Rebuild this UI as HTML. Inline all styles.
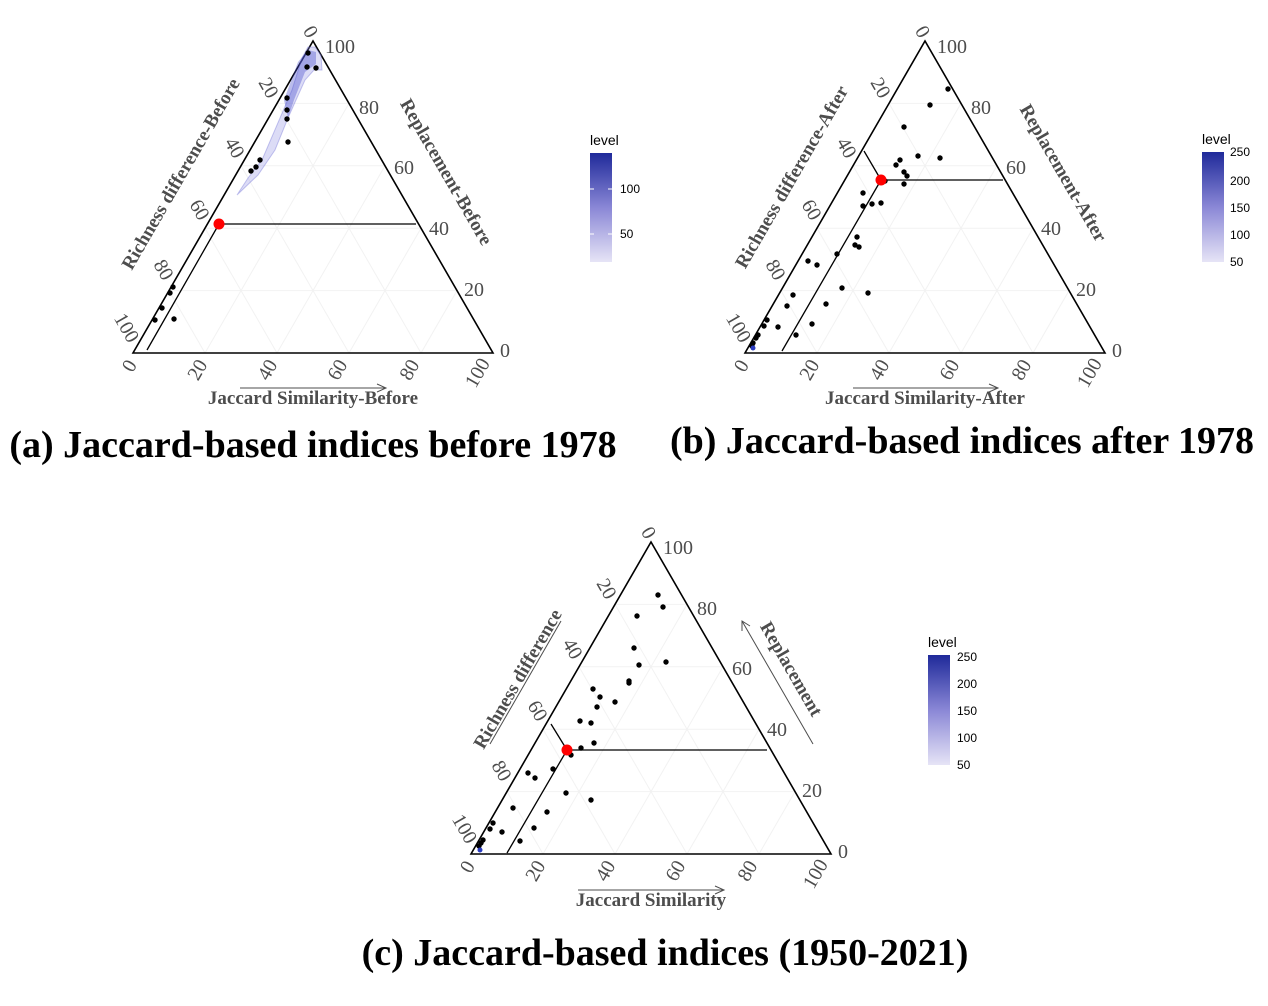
<!DOCTYPE html>
<html><head><meta charset="utf-8"><style>
body{margin:0;background:#fff}
svg{display:block}
.tk{font-family:"Liberation Serif",serif;font-size:20px;fill:#4d4d4d}
.tt{font-family:"Liberation Serif",serif;font-size:19px;font-weight:bold;fill:#4d4d4d}
.cap{font-family:"Liberation Serif",serif;font-size:38px;font-weight:bold;fill:#000}
.lg{font-family:"Liberation Sans",sans-serif;font-size:12px;fill:#000}
.lgt{font-family:"Liberation Sans",sans-serif;font-size:14px;fill:#000}
</style></head><body>
<svg width="1268" height="1006" viewBox="0 0 1268 1006" xmlns="http://www.w3.org/2000/svg">
<defs>
<linearGradient id="g" x1="0" y1="1" x2="0" y2="0"><stop offset="0" stop-color="#e6e4f6"/><stop offset="0.5" stop-color="#8a87d6"/><stop offset="1" stop-color="#1f2a9a"/></linearGradient>
<g id="tri">
<g stroke="#f2f2f2" stroke-width="1">
<line x1="36" y1="-62.4" x2="324" y2="-62.4"/><line x1="72" y1="-124.8" x2="288" y2="-124.8"/><line x1="108" y1="-187.2" x2="252" y2="-187.2"/><line x1="144" y1="-249.6" x2="216" y2="-249.6"/>
<line x1="72" y1="0" x2="216" y2="-249.6"/><line x1="144" y1="0" x2="252" y2="-187.2"/><line x1="216" y1="0" x2="288" y2="-124.8"/><line x1="288" y1="0" x2="324" y2="-62.4"/>
<line x1="72" y1="0" x2="36" y2="-62.4"/><line x1="144" y1="0" x2="72" y2="-124.8"/><line x1="216" y1="0" x2="108" y2="-187.2"/><line x1="288" y1="0" x2="144" y2="-249.6"/>
</g>
<polygon points="0,0 360,0 180,-312" fill="none" stroke="#000" stroke-width="1.6"/>
<g class="tk" text-anchor="middle">
<text transform="translate(172,-318) rotate(60)">0</text>
<text transform="translate(130,-262) rotate(60)">20</text>
<text transform="translate(96,-202) rotate(60)">40</text>
<text transform="translate(61,-140) rotate(60)">60</text>
<text transform="translate(25,-80) rotate(60)">80</text>
<text transform="translate(-12,-22) rotate(60)">100</text>
<text x="207" y="-300">100</text><text x="236" y="-239">80</text><text x="271" y="-179">60</text><text x="306" y="-118">40</text><text x="341" y="-57">20</text><text x="372" y="4">0</text>
<text transform="translate(2,16) rotate(-60)">0</text>
<text transform="translate(70,20) rotate(-60)">20</text>
<text transform="translate(140,20) rotate(-60)">40</text>
<text transform="translate(210,20) rotate(-60)">60</text>
<text transform="translate(282,20) rotate(-60)">80</text>
<text transform="translate(350,23) rotate(-60)">100</text>
</g>
</g>
</defs>

<!-- Panel a -->
<use href="#tri" x="133" y="353"/>
<polygon points="237,195 248,178 262,160 280,118 292,90 302,58 308,47 315,47 321,55 322,70 314,70 305,80 296,100 288,118 275,150 258,175" fill="#8c8ce0" fill-opacity="0.3" stroke="#7070d8" stroke-opacity="0.4"/>
<polygon points="284,100 298,62 308,50 316,52 316,64 305,72 294,100 288,118" fill="#3a40c8" fill-opacity="0.35"/>
<line x1="147" y1="350" x2="219" y2="224" stroke="#000" stroke-width="1.3"/>
<line x1="219" y1="224" x2="416" y2="224" stroke="#000" stroke-width="1.3"/>
<g fill="#000">
<circle cx="308" cy="53" r="2.7"/><circle cx="307" cy="67" r="2.7"/><circle cx="316" cy="68" r="2.7"/><circle cx="287" cy="98" r="2.7"/><circle cx="287" cy="110" r="2.7"/><circle cx="287" cy="119" r="2.7"/><circle cx="288" cy="142" r="2.7"/><circle cx="260" cy="160" r="2.7"/><circle cx="256" cy="167" r="2.7"/><circle cx="251" cy="171" r="2.7"/><circle cx="173" cy="287" r="2.7"/><circle cx="170" cy="293" r="2.7"/><circle cx="162" cy="308" r="2.7"/><circle cx="155" cy="320" r="2.7"/><circle cx="174" cy="319" r="2.7"/>
</g>
<circle cx="219" cy="224" r="5.5" fill="#f00"/>
<text class="tt" text-anchor="middle" x="313" y="404">Jaccard Similarity-Before</text>
<line x1="240" y1="388" x2="385" y2="388" stroke="#4d4d4d"/><path d="M377,384 L386,388 L377,392" fill="none" stroke="#4d4d4d"/>
<text class="tt" text-anchor="middle" transform="translate(186,177) rotate(-60)">Richness difference-Before</text>
<text class="tt" text-anchor="middle" transform="translate(441,175) rotate(60)">Replacement-Before</text>
<text class="lgt" x="590" y="145">level</text>
<rect x="590" y="153" width="22" height="109" fill="url(#g)"/>
<g stroke="#fff"><line x1="590" y1="189" x2="594" y2="189"/><line x1="608" y1="189" x2="612" y2="189"/><line x1="590" y1="234" x2="594" y2="234"/><line x1="608" y1="234" x2="612" y2="234"/></g>
<text class="lg" x="620" y="193">100</text><text class="lg" x="620" y="238">50</text>
<text class="cap" text-anchor="middle" x="313" y="457">(a) Jaccard-based indices before 1978</text>

<!-- Panel b -->
<use href="#tri" x="745" y="353"/>
<line x1="782" y1="351" x2="881" y2="180" stroke="#000" stroke-width="1.3"/>
<line x1="864" y1="151" x2="881" y2="180" stroke="#000" stroke-width="1.3"/>
<line x1="881" y1="180" x2="1003" y2="180" stroke="#000" stroke-width="1.3"/>
<g fill="#000">
<circle cx="948" cy="89" r="2.7"/><circle cx="930" cy="105" r="2.7"/><circle cx="904" cy="127" r="2.7"/><circle cx="918" cy="156" r="2.7"/><circle cx="940" cy="158" r="2.7"/><circle cx="900" cy="160" r="2.7"/><circle cx="896" cy="165" r="2.7"/><circle cx="904" cy="172" r="2.7"/><circle cx="907" cy="176" r="2.7"/><circle cx="904" cy="184" r="2.7"/><circle cx="885" cy="181" r="2.7"/><circle cx="863" cy="193" r="2.7"/><circle cx="863" cy="206" r="2.7"/><circle cx="872" cy="204" r="2.7"/><circle cx="881" cy="203" r="2.7"/><circle cx="857" cy="237" r="2.7"/><circle cx="855" cy="245" r="2.7"/><circle cx="859" cy="247" r="2.7"/><circle cx="837" cy="254" r="2.7"/><circle cx="808" cy="261" r="2.7"/><circle cx="817" cy="265" r="2.7"/><circle cx="842" cy="288" r="2.7"/><circle cx="868" cy="293" r="2.7"/><circle cx="793" cy="295" r="2.7"/><circle cx="826" cy="304" r="2.7"/><circle cx="787" cy="306" r="2.7"/><circle cx="767" cy="320" r="2.7"/><circle cx="764" cy="326" r="2.7"/><circle cx="778" cy="327" r="2.7"/><circle cx="812" cy="324" r="2.7"/><circle cx="796" cy="335" r="2.7"/><circle cx="758" cy="335" r="2.7"/><circle cx="756" cy="338" r="2.7"/><circle cx="753" cy="343" r="2.7"/><circle cx="752" cy="346" r="2.7"/>
</g>
<circle cx="753" cy="348" r="2.5" fill="#2a3cc0"/>
<circle cx="881" cy="180" r="5.5" fill="#f00"/>
<text class="tt" text-anchor="middle" x="925" y="404">Jaccard Similarity-After</text>
<line x1="853" y1="388" x2="997" y2="388" stroke="#4d4d4d"/><path d="M989,384 L998,388 L989,392" fill="none" stroke="#4d4d4d"/>
<text class="tt" text-anchor="middle" transform="translate(797,180) rotate(-60)">Richness difference-After</text>
<text class="tt" text-anchor="middle" transform="translate(1058,176) rotate(60)">Replacement-After</text>
<text class="lgt" x="1202" y="144">level</text>
<rect x="1202" y="152" width="22" height="110" fill="url(#g)"/>
<text class="lg" x="1230" y="156">250</text><text class="lg" x="1230" y="185">200</text><text class="lg" x="1230" y="212">150</text><text class="lg" x="1230" y="239">100</text><text class="lg" x="1230" y="266">50</text>
<text class="cap" text-anchor="middle" x="962" y="453">(b) Jaccard-based indices after 1978</text>

<!-- Panel c -->
<use href="#tri" x="471" y="854"/>
<line x1="507" y1="853" x2="567" y2="750" stroke="#000" stroke-width="1.3"/>
<line x1="551" y1="724" x2="567" y2="750" stroke="#000" stroke-width="1.3"/>
<line x1="567" y1="750" x2="767" y2="750" stroke="#000" stroke-width="1.3"/>
<g fill="#000">
<circle cx="658" cy="595" r="2.7"/><circle cx="663" cy="607" r="2.7"/><circle cx="637" cy="616" r="2.7"/><circle cx="634" cy="648" r="2.7"/><circle cx="639" cy="665" r="2.7"/><circle cx="666" cy="662" r="2.7"/><circle cx="629" cy="681" r="2.7"/><circle cx="629" cy="683" r="2.7"/><circle cx="593" cy="689" r="2.7"/><circle cx="600" cy="697" r="2.7"/><circle cx="615" cy="702" r="2.7"/><circle cx="597" cy="707" r="2.7"/><circle cx="580" cy="721" r="2.7"/><circle cx="591" cy="723" r="2.7"/><circle cx="594" cy="743" r="2.7"/><circle cx="581" cy="748" r="2.7"/><circle cx="571" cy="755" r="2.7"/><circle cx="553" cy="769" r="2.7"/><circle cx="528" cy="773" r="2.7"/><circle cx="535" cy="778" r="2.7"/><circle cx="566" cy="793" r="2.7"/><circle cx="591" cy="800" r="2.7"/><circle cx="513" cy="808" r="2.7"/><circle cx="547" cy="812" r="2.7"/><circle cx="493" cy="823" r="2.7"/><circle cx="490" cy="829" r="2.7"/><circle cx="502" cy="832" r="2.7"/><circle cx="534" cy="828" r="2.7"/><circle cx="520" cy="841" r="2.7"/><circle cx="483" cy="840" r="2.7"/><circle cx="481" cy="843" r="2.7"/><circle cx="479" cy="846" r="2.7"/>
</g>
<circle cx="480" cy="850" r="2.5" fill="#2a3cc0"/>
<circle cx="567" cy="750" r="5.5" fill="#f00"/>
<text class="tt" text-anchor="middle" x="651" y="906">Jaccard Similarity</text>
<line x1="578" y1="890" x2="723" y2="890" stroke="#4d4d4d"/><path d="M715,886 L724,890 L715,894" fill="none" stroke="#4d4d4d"/>
<text class="tt" text-anchor="middle" transform="translate(523,682) rotate(-60)">Richness difference</text>
<line x1="490" y1="744" x2="561" y2="621" stroke="#4d4d4d"/>
<text class="tt" text-anchor="middle" transform="translate(786,672) rotate(60)">Replacement</text>
<line x1="813" y1="744" x2="742" y2="621" stroke="#4d4d4d"/><path d="M742,631 L742,621 L750,626" fill="none" stroke="#4d4d4d"/>
<text class="lgt" x="928" y="647">level</text>
<rect x="928" y="655" width="22" height="110" fill="url(#g)"/>
<text class="lg" x="957" y="661">250</text><text class="lg" x="957" y="688">200</text><text class="lg" x="957" y="715">150</text><text class="lg" x="957" y="742">100</text><text class="lg" x="957" y="769">50</text>
<text class="cap" text-anchor="middle" x="665" y="965">(c) Jaccard-based indices (1950-2021)</text>
</svg>
</body></html>
